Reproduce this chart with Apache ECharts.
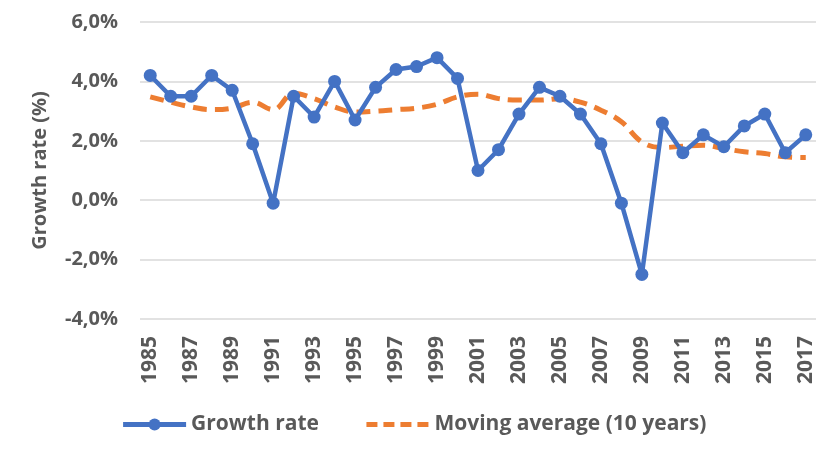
<!DOCTYPE html>
<html>
<head>
<meta charset="utf-8">
<script src="https://cdn.jsdelivr.net/npm/echarts@6/dist/echarts.min.js"></script>
<style>
  html, body { margin: 0; padding: 0; background: #fff; }
  #chart { width: 827px; height: 450px; }
</style>
</head>
<body>
<div id="chart"></div>
<script>
// years on the x axis
const years = [];
for (let y = 1985; y <= 2017; y++) years.push(String(y));

// growth rate (%)
const growthRate = [
  4.2, 3.5, 3.5, 4.2, 3.7, 1.9, -0.1, 3.5, 2.8, 4.0, 2.7,
  3.8, 4.4, 4.5, 4.8, 4.1, 1.0, 1.7, 2.9, 3.8, 3.5, 2.9,
  1.9, -0.1, -2.5, 2.6, 1.6, 2.2, 1.8, 2.5, 2.9, 1.6, 2.2
];

// moving average over 10 years (%)
const movingAvg = [
  3.48, 3.3, 3.14, 3.05, 3.1, 3.3, 3.05, 3.6, 3.42, 3.14, 2.97,
  3.0, 3.05, 3.1, 3.23, 3.48, 3.57, 3.42, 3.37, 3.37, 3.42, 3.3,
  3.03, 2.64, 1.96, 1.77, 1.82, 1.85, 1.74, 1.63, 1.57, 1.46, 1.44
];

const textColor = "#595959";
const fontFamily = "'Open Sans', 'DejaVu Sans', sans-serif";

const chart = echarts.init(document.getElementById("chart"));
chart.setOption({
  backgroundColor: "#fff",
  animation: false,
  textStyle: { fontFamily: fontFamily },
  grid: { left: 140, right: 11, top: 22, bottom: 131 },
  legend: {
    top: 409,
    left: "center",
    itemWidth: 63,
    itemHeight: 15,
    itemGap: 45,
    textStyle: { color: textColor, fontSize: 21, fontWeight: "bold", fontFamily: fontFamily },
    data: [
      { name: "Growth rate", lineStyle: { width: 5 } },
      { name: "Moving average (10 years)", itemStyle: { opacity: 0 }, lineStyle: { width: 5, type: [11, 6] } }
    ]
  },
  xAxis: {
    type: "category",
    data: years,
    boundaryGap: true,
    axisLine: { show: false },
    axisTick: { show: false },
    axisLabel: {
      interval: 1,
      rotate: 90,
      color: textColor,
      fontSize: 21,
      fontWeight: "bold",
      margin: 17
    }
  },
  yAxis: {
    type: "value",
    min: -4,
    max: 6,
    interval: 2,
    name: "Growth rate (%)",
    nameLocation: "middle",
    nameGap: 90,
    nameTextStyle: { color: textColor, fontSize: 20, fontWeight: "bold" },
    axisLine: { show: false },
    axisTick: { show: false },
    splitLine: { lineStyle: { color: "#d9d9d9", width: 1.5 } },
    axisLabel: {
      color: textColor,
      fontSize: 20,
      fontWeight: "bold",
      margin: 22,
      formatter: v => v.toFixed(1).replace(".", ",") + "%"
    }
  },
  series: [
    {
      name: "Moving average (10 years)",
      type: "line",
      data: movingAvg,
      smooth: 0.4,
      symbol: "none",
      z: 2,
      itemStyle: { color: "#ED7D31" },
      lineStyle: { color: "#ED7D31", width: 5, type: [14, 8] }
    },
    {
      name: "Growth rate",
      type: "line",
      data: growthRate,
      symbol: "circle",
      symbolSize: 13,
      z: 3,
      itemStyle: { color: "#4472C4" },
      lineStyle: { color: "#4472C4", width: 4.5 }
    }
  ]
});
</script>
</body>
</html>
